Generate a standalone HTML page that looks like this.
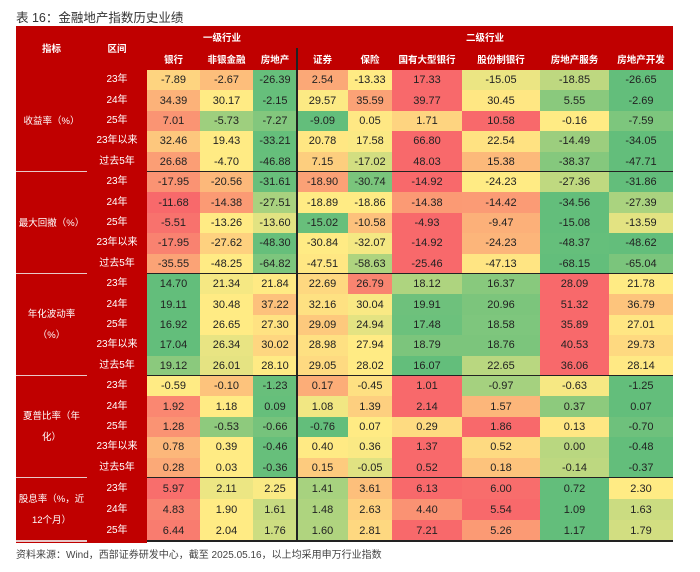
<!DOCTYPE html>
<html><head><meta charset="utf-8">
<style>
body{margin:0;width:700px;height:572px;background:#fff;position:relative;overflow:hidden;font-family:"Liberation Sans","Noto Sans CJK SC",sans-serif;}
.a{position:absolute;box-sizing:border-box;display:flex;align-items:center;justify-content:center;text-align:center;}
.h{color:#fff;font-weight:bold;font-size:9.5px;}
.l{color:#fff;font-size:10px;line-height:20px;white-space:nowrap;}
.ind{color:#fff;font-size:9.5px;line-height:21px;white-space:nowrap;}
.c{font-size:11px;color:#222;}
</style></head><body>
<div class="a" style="left:16px;top:6px;height:20px;justify-content:flex-start;font-size:12.5px;color:#333;">表 16：金融地产指数历史业绩</div>
<div id="tbl"></div>
<div class="a" style="left:16px;top:544px;height:18px;justify-content:flex-start;font-size:10px;color:#444;">资料来源：Wind，西部证券研发中心，截至 2025.05.16，以上均采用申万行业指数</div>
<script>
const columns=["银行","非银金融","房地产","证券","保险","国有大型银行","股份制银行","房地产服务","房地产开发"];
const indicators=["收益率（%）","最大回撤（%）","年化波动率<br>（%）","夏普比率（年<br>化）","股息率（%，近<br>12个月）"];
const periods5=["23年","24年","25年","23年以来","过去5年"];
const periods3=["23年","24年","25年"];
const returnVals=[
[-7.89,-2.67,-26.39,2.54,-13.33,17.33,-15.05,-18.85,-26.65],
[34.39,30.17,-2.15,29.57,35.59,39.77,30.45,5.55,-2.69],
[7.01,-5.73,-7.27,-9.09,0.05,1.71,10.58,-0.16,-7.59],
[32.46,19.43,-33.21,20.78,17.58,66.80,22.54,-14.49,-34.05],
[26.68,-4.70,-46.88,7.15,-17.02,48.03,15.38,-38.37,-47.71]];
const drawdownVals=[
[-17.95,-20.56,-31.61,-18.90,-30.74,-14.92,-24.23,-27.36,-31.86],
[-11.68,-14.38,-27.51,-18.89,-18.86,-14.38,-14.42,-34.56,-27.39],
[-5.51,-13.26,-13.60,-15.02,-10.58,-4.93,-9.47,-15.08,-13.59],
[-17.95,-27.62,-48.30,-30.84,-32.07,-14.92,-24.23,-48.37,-48.62],
[-35.55,-48.25,-64.82,-47.51,-58.63,-25.46,-47.13,-68.15,-65.04]];
const volVals=[
[14.70,21.34,21.84,22.69,26.79,18.12,16.37,28.09,21.78],
[19.11,30.48,37.22,32.16,30.04,19.91,20.96,51.32,36.79],
[16.92,26.65,27.30,29.09,24.94,17.48,18.58,35.89,27.01],
[17.04,26.34,30.02,28.98,27.94,18.79,18.76,40.53,29.73],
[19.12,26.01,28.10,29.05,28.02,16.07,22.65,36.06,28.14]];
const sharpeVals=[
[-0.59,-0.10,-1.23,0.17,-0.45,1.01,-0.97,-0.63,-1.25],
[1.92,1.18,0.09,1.08,1.39,2.14,1.57,0.37,0.07],
[1.28,-0.53,-0.66,-0.76,0.07,0.29,1.86,0.13,-0.70],
[0.78,0.39,-0.46,0.40,0.36,1.37,0.52,0.00,-0.48],
[0.28,0.03,-0.36,0.15,-0.05,0.52,0.18,-0.14,-0.37]];
const dividendVals=[
[5.97,2.11,2.25,1.41,3.61,6.13,6.00,0.72,2.30],
[4.83,1.90,1.61,1.48,2.63,4.40,5.54,1.09,1.63],
[6.44,2.04,1.76,1.60,2.81,7.21,5.26,1.17,1.79]];
const sections=[returnVals,drawdownVals,volVals,sharpeVals,dividendVals];

const colX=[147,200,253,297,348,392,462,540,609,673];
const T=document.getElementById('tbl');
function box(x,y,w,h,cls,bg,html,name){
  const d=document.createElement('div');
  d.className='a '+cls;
  d.style.cssText=`left:${x}px;top:${y}px;width:${w}px;height:${h}px;background:${bg};`;
  d.innerHTML=html;
  
  
  T.appendChild(d);return d;
}
const RED='#c00000';
box(16,26,657,44,'',RED,'','header-background');
box(16,70,131,473,'',RED,'','label-column-background');
box(16,26,71,44,'h','transparent','指标','header-indicator');
box(87,26,60,44,'h','transparent','区间','header-interval');
box(147,26,150,22,'h','transparent','一级行业','header-level1');
box(297,26,376,22,'h','transparent','二级行业','header-level2');
columns.forEach((c,i)=>{box(colX[i],48,colX[i+1]-colX[i],22,'h','transparent',c,'column-header');});
function lerp(a,b,t){return a.map((v,i)=>Math.round(v+(b[i]-v)*t));}
const G=[99,190,123],Y=[255,235,132],R=[248,105,107];
function color(v,row){
  const s=[...row].sort((a,b)=>a-b);const mn=s[0],mx=s[s.length-1],md=s[Math.floor(s.length/2)];
  let c;
  if(v<=md){c=lerp(G,Y,md===mn?1:(v-mn)/(md-mn));}else{c=lerp(Y,R,(v-md)/(mx-md));}
  return `rgb(${c})`;
}
let y=70;
sections.forEach((rows,si)=>{
  const rh=rows.length===3?21:20.4;
  const top=y;
  box(16,top,71,rh*rows.length,'ind','transparent',indicators[si],'indicator-label');
  rows.forEach((row,ri)=>{
    const per=(rows.length===3?periods3:periods5)[ri];
    box(87,y,60,rh,'l','transparent',per,'period-label');
    row.forEach((v,ci)=>{
      box(colX[ci],y,colX[ci+1]-colX[ci],rh,'c',color(v,row),v.toFixed(2),'heatmap-cell');
    });
    y+=rh;
  });
  if(si<sections.length-1){
    box(16,y-1,71,1,'','#e8c8c8','','section-divider-label');
    box(147,y-1,526,1.5,'','#222','','section-divider');
  }
});
box(16,y-1,71,1.5,'','#e8c8c8','','table-bottom-label');
box(147,y-1,526,1.5,'','#222','','table-bottom-line');
box(296,48,1.5,y-48,'','#222','','level-divider');
</script>
</body></html>
